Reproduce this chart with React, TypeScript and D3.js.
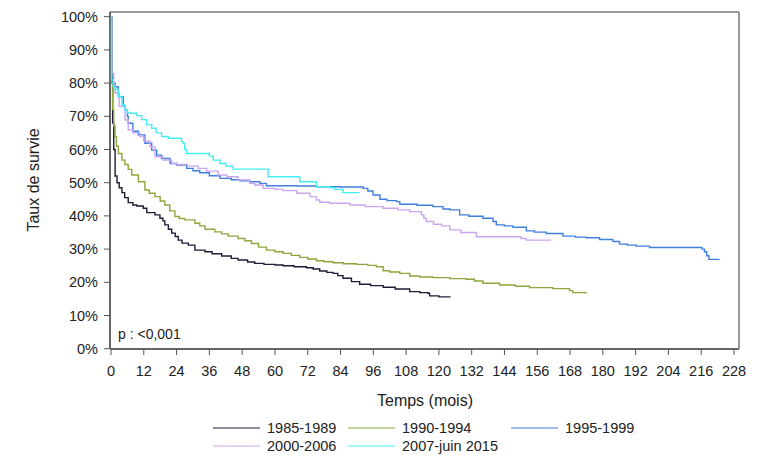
import React from "react";
import * as d3 from "d3";

const seriesNames = ["1985-1989", "1990-1994", "1995-1999", "2000-2006", "2007-juin 2015"];
const seriesColors = ["#1c1c34", "#8ca83c", "#3f7fdc", "#c9a6f0", "#44eef0"];

const t1985 = [0,0.3,0.6,1,1.5,2.2,3,4,5,6.3,8,9.4,11.8,13.1,16.1,17.9,19,19.7,21,22.2,23.5,24.6,26,28.3,30.7,34.4,37,40.5,44,46.5,50,52.6,56,60,63,67,71.5,74,76.4,79,81.3,83,84.9,88,91,95,99.6,104,109.3,113,116,116.6,120,124];
const s1985 = [100,82,68,60,52,50,48.5,47,45.5,44,43.3,43,42.3,41,40.3,39.3,38.5,37.3,36,34.8,33.8,32.7,31.8,31.2,29.7,29.2,28.6,27.9,27.2,26.7,26.1,25.7,25.4,25.2,25,24.7,24.4,24,23.4,23,22.7,22,21.2,20.2,19.4,19,18.5,18,17.2,16.9,16.7,15.9,15.6,15.4];

const t1990 = [0,0.2,0.6,1,1.5,2,2.7,4,5.1,6.3,7.6,10,12.4,14,16.1,18,19.7,21.5,23.4,25,27,30.7,32.5,34.4,38,40.5,42.9,46.5,49,51.4,54,56.9,60,63,66,69.1,72,75.2,78,81.3,85,89.8,94,97.1,99.6,102,105.7,109.3,113,117.8,124,130,133,136.1,142.2,148,153.2,161.7,167.8,169,173.9];
const s1990 = [100,80,72,67,63.9,61,58.8,56.8,55.5,54,52.3,50.3,47.8,46.8,45.8,44.5,43.3,41.5,39.8,39.2,38.8,37.8,37,36,35.2,34.6,33.9,33.2,32.5,31.7,30.6,29.7,29.2,28.7,28.1,27.5,27,26.5,26.2,25.9,25.6,25.4,25.1,24.7,23.5,23.1,22.7,21.9,21.6,21.4,21.1,20.9,20.4,19.7,19.2,18.8,18.4,18.1,17.5,16.9,16.6];

const t1995 = [0,0.2,0.8,1.5,2.7,4.5,5.1,6,6.3,8,10,12.4,14.9,16.7,18.5,21.6,24,27.7,30,32.5,36,39.9,44,47.2,50.8,54.5,56.9,60.6,68,75.2,84,92.3,94,95.9,98.4,101,104.5,105.7,112,117.8,121.5,124,127.6,131,136.1,139.8,141,144,147.1,152,155,159.3,165.4,170,173.9,178.8,183.7,186.1,189,192.2,197.1,215.4,216.3,217.2,218,218.8,222.7];
const s1995 = [100,82,80,78.9,75.9,73,71.9,70,67.9,65.5,64.4,61.9,59.8,58.3,57.3,55.8,55.3,54.3,53.6,53,52.1,51.3,50.9,50.6,50.3,49.8,49.1,49.1,49,48.8,48.7,48.3,47.5,46.3,45,44.6,44.3,43.5,43.2,42.8,42.1,41.8,40.3,39.9,39.3,38.3,37.3,37,36.6,35.5,35.1,34.7,33.9,33.6,33.4,32.9,32.3,31.5,31.2,30.9,30.5,30.5,30,29.2,28,26.9,26.9];

const t2000 = [0,0.3,1,1.5,3,5.1,6.3,8,10.6,12,14.3,16.1,19.1,22.2,24,28,31.9,35,39.2,42.3,46.5,50.8,52.6,55.7,60,63,68,72.8,75.2,76.4,80,87.4,93,99.6,105,109.3,113.6,114.5,115.4,118,121,124,128,133.7,150,152,161.1];
const s2000 = [100,83,79,77,73,68.9,65.9,65,63.9,62.5,60.8,57.8,56.8,55.8,55.5,55,54.3,53.5,52.3,51.8,50.8,49.8,49.3,48.3,48,47.6,46.8,45.8,44.8,44.1,43.8,43.3,42.8,42.3,41.8,41.3,40.3,39.3,38.3,37.5,37,35.8,35,33.7,33.2,32.7,32.7];

const t2007 = [0,0.2,0.8,1.5,2.7,4,5.1,6,7.6,9.5,11.2,13,14.9,16.5,18.5,21,23.4,25.8,26.4,27,27.7,35,36,37.4,39.9,42,44.7,54.5,56.3,57.5,62,68.5,69.1,74,75.2,80.1,82,84.9,91];
const s2007 = [100,81,79,78,76,73.5,71.9,71,70.9,70.2,69,67.5,66.4,65,63.9,63.4,63.4,62.4,61.9,60,58.8,58.8,58,56.8,55.8,55,54.1,54.1,54.1,51.8,51.8,51.8,50.3,50.3,48.8,48.5,48,47,47];

const seriesTimes = [t1985, t1990, t1995, t2000, t2007];
const seriesSurv = [s1985, s1990, s1995, s2000, s2007];

const xTicks = d3.range(0, 229, 12);
const yTicks = d3.range(0, 101, 10);

const FONT = "Liberation Sans, Arial, sans-serif";

export default function App() {
  const x = d3.scaleLinear().domain([0, 228]).range([111, 734]);
  const y = d3.scaleLinear().domain([0, 100]).range([348.7, 16.7]);
  const line = d3
    .line<[number, number]>()
    .x((d) => x(d[0]))
    .y((d) => y(d[1]))
    .curve(d3.curveStepAfter);

  const frame = { left: 110, right: 739, top: 12, bottom: 349 };

  const legend = [
    { col: 0, row: 0 },
    { col: 1, row: 0 },
    { col: 2, row: 0 },
    { col: 0, row: 1 },
    { col: 1, row: 1 },
  ];
  const colX = [213, 348, 511];
  const rowY = [428, 446];

  return (
    <svg
      width={770}
      height={461}
      style={{ position: "absolute", left: 0, top: 0, background: "#fff" }}
      fontFamily={FONT}
    >
      <rect x={0} y={0} width={770} height={461} fill="#fff" />
      {/* frame */}
      <line x1={frame.left} x2={frame.right} y1={frame.top} y2={frame.top} stroke="#777" strokeWidth={1.5} />
      <line x1={frame.right} x2={frame.right} y1={frame.top} y2={frame.bottom} stroke="#777" strokeWidth={1.5} />
      <line x1={frame.left} x2={frame.right} y1={frame.bottom} y2={frame.bottom} stroke="#666" strokeWidth={2} />
      <line x1={frame.left} x2={frame.left} y1={frame.top} y2={frame.bottom} stroke="#666" strokeWidth={2} />

      {/* y ticks */}
      {yTicks.map((v) => (
        <g key={"y" + v}>
          <line x1={104} x2={110} y1={y(v)} y2={y(v)} stroke="#555" strokeWidth={1} />
          <text x={98} y={y(v)} dy="0.35em" textAnchor="end" fontSize={14.5} fill="#222">
            {v + "%"}
          </text>
        </g>
      ))}
      {/* x ticks */}
      {xTicks.map((v) => (
        <g key={"x" + v}>
          <line x1={x(v)} x2={x(v)} y1={349} y2={355} stroke="#555" strokeWidth={1} />
          <text x={x(v)} y={371} dy="0.35em" textAnchor="middle" fontSize={14.5} fill="#222">
            {v}
          </text>
        </g>
      ))}

      <text x={425} y={400} dy="0.35em" textAnchor="middle" fontSize={16} fill="#222">
        Temps (mois)
      </text>
      <text
        transform="translate(33,180) rotate(-90)"
        textAnchor="middle"
        dy="0.35em"
        fontSize={16}
        fill="#222"
      >
        Taux de survie
      </text>

      <text x={118} y={334} dy="0.35em" fontSize={14} fill="#222">
        p : &lt;0,001
      </text>

      {/* curves */}
      {seriesNames.map((name, i) => {
        const pts: [number, number][] = seriesTimes[i].map((t, j) => [t, seriesSurv[i][j]]);
        return (
          <path
            key={name}
            d={line(pts) || ""}
            fill="none"
            stroke={seriesColors[i]}
            strokeWidth={1.4}
          />
        );
      })}

      {/* legend */}
      {seriesNames.map((name, i) => {
        const p = legend[i];
        const lx = colX[p.col];
        const ly = rowY[p.row];
        return (
          <g key={"lg" + name}>
            <line x1={lx} x2={lx + 47} y1={ly} y2={ly} stroke={seriesColors[i]} strokeWidth={1.2} />
            <text x={lx + 54} y={ly} dy="0.35em" fontSize={14.5} fill="#222">
              {name}
            </text>
          </g>
        );
      })}
    </svg>
  );
}
